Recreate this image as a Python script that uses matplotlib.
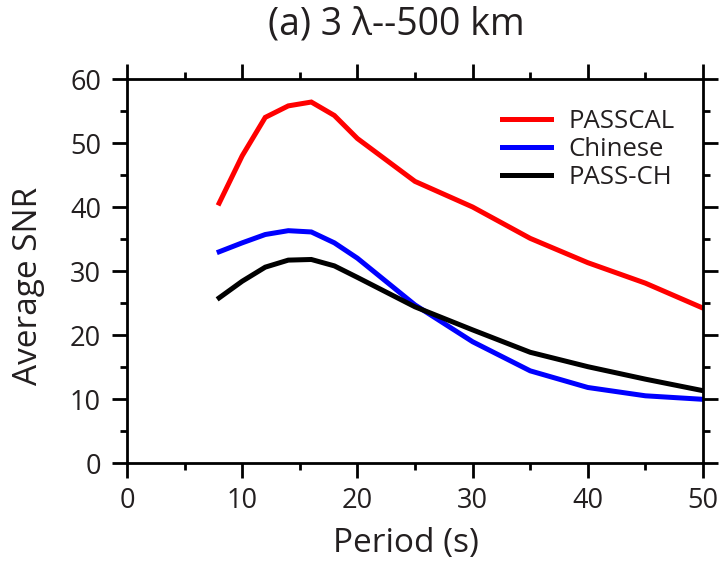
import matplotlib
matplotlib.use('Agg')
import matplotlib.pyplot as plt
from matplotlib.ticker import MultipleLocator

plt.rcParams['font.family'] = ['Open Sans', 'DejaVu Sans']

# Daten
period = [8, 10, 12, 14, 16, 18, 20, 25, 30, 35, 40, 45, 50]
snr_passcal = [40.6, 48.0, 54.0, 55.8, 56.4, 54.3, 50.7, 44.0, 40.0, 35.1, 31.3, 28.1, 24.2]
snr_chinese = [33.0, 34.4, 35.7, 36.3, 36.1, 34.4, 32.0, 24.7, 18.95, 14.4, 11.8, 10.5, 9.95]
snr_passch = [25.8, 28.4, 30.6, 31.7, 31.8, 30.8, 29.0, 24.4, 20.8, 17.3, 15.05, 13.1, 11.3]

txt = '#231f20'

fig = plt.figure(figsize=(7.19, 5.66), dpi=100)
ax = fig.add_axes([127/719, 1-463/566, 576/719, 384/566])

ax.plot(period, snr_passcal, color='#ff0000', lw=3.6, label='PASSCAL', solid_joinstyle='miter')
ax.plot(period, snr_chinese, color='#0000ff', lw=3.6, label='Chinese', solid_joinstyle='miter')
ax.plot(period, snr_passch, color='black', lw=3.6, label='PASS-CH', solid_joinstyle='miter')

ax.set_xlim(0, 50)
ax.set_ylim(0, 60)
ax.xaxis.set_major_locator(MultipleLocator(10))
ax.xaxis.set_minor_locator(MultipleLocator(5))
ax.yaxis.set_major_locator(MultipleLocator(10))
ax.yaxis.set_minor_locator(MultipleLocator(5))
ax.tick_params(which='both', direction='out', top=True, right=True, width=2, color='black',
               labelsize=19.5, labelcolor=txt)
ax.tick_params(which='major', length=10.8)
ax.tick_params(which='minor', length=5)
ax.tick_params(axis='x', which='major', pad=6.5)
ax.tick_params(axis='y', which='major', pad=8)
for s in ax.spines.values():
    s.set_linewidth(2)

ax.set_xlabel('Period (s)', fontsize=24, color=txt)
ax.set_ylabel('Average SNR', fontsize=24, color=txt)
ax.xaxis.set_label_coords((406-127)/576, (463-552)/384)
ax.yaxis.set_label_coords((45-127)/576, (463-286)/384)
ax.xaxis.label.set_va('baseline')

fig.text(396/719, 1-35/566, '(a) 3 λ--500 km', fontsize=27, color=txt, ha='center', va='baseline')

leg = ax.legend(loc='upper left', bbox_to_anchor=((489-127)/576, (463-96)/384), frameon=False,
                fontsize=18.5, handlelength=1.9, handletextpad=0.7, labelspacing=0.12, borderpad=0)
for t in leg.get_texts():
    t.set_color(txt)

fig.savefig('out.png', dpi=100)
